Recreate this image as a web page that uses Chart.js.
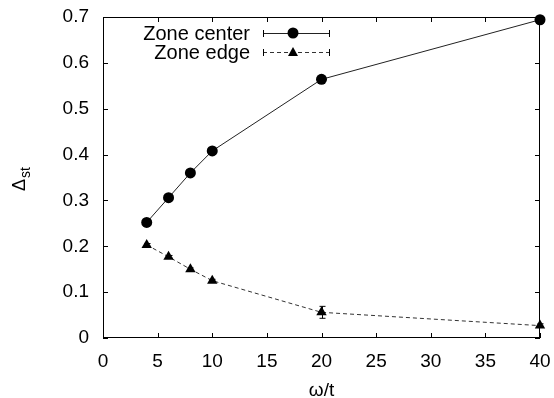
<!DOCTYPE html>
<html>
<head>
<meta charset="utf-8">
<script src="https://cdn.jsdelivr.net/npm/chart.js@4.4.1/dist/chart.umd.min.js"></script>
<style>
  html, body { margin: 0; padding: 0; background: #fff; }
  #wrap { width: 554px; height: 398px; }
</style>
</head>
<body>
<div id="wrap"><canvas id="myChart"></canvas></div>
<script>
const FONT = "'Liberation Sans', Arial, sans-serif";
const INK = "#000000";

// omega/t values and the gap at zone center / zone edge
const omegaT = [4, 6, 8, 10, 20, 40];
const zoneCenter = [0.252, 0.306, 0.360, 0.408, 0.564, 0.694];
const zoneEdge = [0.203, 0.177, 0.150, 0.125, 0.056, 0.027];
const zoneCenterErr = [0.002, 0.002, 0.002, 0.002, 0.002, 0.002];
const zoneEdgeErr = [0.003, 0.003, 0.003, 0.003, 0.013, 0.004];
const xTicks = [0, 5, 10, 15, 20, 25, 30, 35, 40];
const yTicks = [0, 0.1, 0.2, 0.3, 0.4, 0.5, 0.6, 0.7];
const seriesNames = ["Zone center", "Zone edge"];

function toPoints(xs, ys) {
    return xs.map((x, i) => ({ x: x, y: ys[i] }));
}

// fixed axis box size, no label overflow padding
function fixAxis(axis, size) {
    if (axis.isHorizontal())
        axis.height = size;
    else
        axis.width = size;
    axis.paddingTop = 0;
    axis.paddingBottom = 0;
    axis.paddingLeft = 0;
    axis.paddingRight = 0;
}

// gnuplot-like frame with inward ticks on all four sides
const framePlugin = {
    id: 'framePlugin',
    beforeDatasetsDraw(chart) {
        const { ctx, chartArea: { top, bottom, left, right }, scales: { x, y } } = chart;
        ctx.save();
        ctx.strokeStyle = INK;
        ctx.lineWidth = 1;
        ctx.strokeRect(left + 0.5, top + 0.5, right - left - 1, bottom - top - 1);
        ctx.beginPath();
        xTicks.forEach(v => {
            let px = Math.round(x.getPixelForValue(v)) + 0.5;
            ctx.moveTo(px, bottom);
            ctx.lineTo(px, bottom - 5);
            ctx.moveTo(px, top);
            ctx.lineTo(px, top + 5);
        });
        yTicks.forEach(v => {
            let py = Math.round(y.getPixelForValue(v)) + 0.5;
            ctx.moveTo(left, py);
            ctx.lineTo(left + 5, py);
            ctx.moveTo(right, py);
            ctx.lineTo(right - 5, py);
        });
        ctx.stroke();

        // y axis title: Delta with subscript st, rotated
        ctx.translate(25, 191);
        ctx.rotate(-Math.PI / 2);
        ctx.fillStyle = INK;
        ctx.textBaseline = 'alphabetic';
        ctx.textAlign = 'left';
        ctx.font = `18px ${FONT}`;
        let w = ctx.measureText("\u0394").width;
        ctx.fillText("\u0394", 0, 0);
        ctx.font = `14px ${FONT}`;
        ctx.fillText("st", w + 1, 5);
        ctx.restore();
    }
};

// vertical error bars with caps
const errorBarPlugin = {
    id: 'errorBarPlugin',
    afterDatasetsDraw(chart) {
        const { ctx, scales: { x, y } } = chart;
        const errs = [zoneCenterErr, zoneEdgeErr];
        ctx.save();
        ctx.strokeStyle = INK;
        ctx.lineWidth = 1;
        chart.data.datasets.forEach((ds, di) => {
            ds.data.forEach((p, i) => {
                let px = Math.round(x.getPixelForValue(p.x)) + 0.5;
                let y1 = y.getPixelForValue(p.y - errs[di][i]);
                let y2 = y.getPixelForValue(p.y + errs[di][i]);
                ctx.beginPath();
                ctx.moveTo(px, y1);
                ctx.lineTo(px, y2);
                ctx.moveTo(px - 3, y1);
                ctx.lineTo(px + 3, y1);
                ctx.moveTo(px - 3, y2);
                ctx.lineTo(px + 3, y2);
                ctx.stroke();
            });
        });
        ctx.restore();
    }
};

// key in the top left corner, right aligned text with a line sample
const keyPlugin = {
    id: 'keyPlugin',
    afterDraw(chart) {
        const { ctx } = chart;
        const rows = [33, 52];
        ctx.save();
        chart.data.datasets.forEach((ds, i) => {
            let ry = rows[i];
            ctx.fillStyle = INK;
            ctx.font = `20px ${FONT}`;
            ctx.textAlign = 'right';
            ctx.textBaseline = 'middle';
            ctx.fillText(seriesNames[i], 250, ry + 1);
            ctx.strokeStyle = ds.borderColor;
            ctx.lineWidth = 1;
            ctx.setLineDash(ds.borderDash || []);
            ctx.beginPath();
            ctx.moveTo(263, ry + 0.5);
            ctx.lineTo(330, ry + 0.5);
            ctx.stroke();
            ctx.setLineDash([]);
            ctx.strokeStyle = INK;
            ctx.beginPath();
            ctx.moveTo(263.5, ry - 3);
            ctx.lineTo(263.5, ry + 4);
            ctx.moveTo(329.5, ry - 3);
            ctx.lineTo(329.5, ry + 4);
            ctx.stroke();
            ctx.fillStyle = INK;
            if (ds.pointStyle == 'triangle') {
                ctx.beginPath();
                ctx.moveTo(293, ry - 5);
                ctx.lineTo(298, ry + 4);
                ctx.lineTo(288, ry + 4);
                ctx.closePath();
                ctx.fill();
            } else {
                ctx.beginPath();
                ctx.arc(293, ry, 5.5, 0, Math.PI * 2);
                ctx.fill();
            }
        });
        ctx.restore();
    }
};

new Chart("myChart", {
    type: 'scatter',
    data: {
        datasets: [{
            data: toPoints(omegaT, zoneCenter),
            showLine: true,
            clip: false,
            borderColor: "#222222",
            borderWidth: 1,
            pointStyle: 'circle',
            pointRadius: 5.5,
            pointBackgroundColor: INK,
            pointBorderColor: INK,
            pointBorderWidth: 0
        }, {
            data: toPoints(omegaT, zoneEdge),
            showLine: true,
            clip: false,
            borderColor: "#333333",
            borderWidth: 1,
            borderDash: [4, 3],
            pointStyle: 'triangle',
            pointRadius: 6,
            pointBackgroundColor: INK,
            pointBorderColor: INK,
            pointBorderWidth: 0
        }]
    },
    options: {
        animation: false,
        responsive: true,
        maintainAspectRatio: false,
        layout: { padding: { top: 17, right: 14, left: 0, bottom: 0 } },
        scales: {
            x: {
                type: 'linear',
                min: 0,
                max: 40,
                afterBuildTicks: axis => { axis.ticks = xTicks.map(v => ({ value: v })); },
                afterFit: axis => fixAxis(axis, 60),
                grid: { display: false, drawTicks: false },
                border: { display: false },
                ticks: {
                    color: INK,
                    padding: 12,
                    font: { family: FONT, size: 19 }
                },
                title: {
                    display: true,
                    text: "\u03c9/t",
                    color: INK,
                    padding: { top: 0, bottom: 0 },
                    font: { family: FONT, size: 19, lineHeight: 0.8 }
                }
            },
            y: {
                type: 'linear',
                min: 0,
                max: 0.7,
                afterBuildTicks: axis => { axis.ticks = yTicks.map(v => ({ value: v })); },
                afterFit: axis => fixAxis(axis, 103),
                grid: { display: false, drawTicks: false },
                border: { display: false },
                ticks: {
                    color: INK,
                    padding: 14,
                    font: { family: FONT, size: 19 },
                    callback: v => String(Math.round(v * 10) / 10)
                }
            }
        },
        plugins: {
            legend: { display: false },
            tooltip: { enabled: false }
        }
    },
    plugins: [framePlugin, errorBarPlugin, keyPlugin]
});
</script>
</body>
</html>
